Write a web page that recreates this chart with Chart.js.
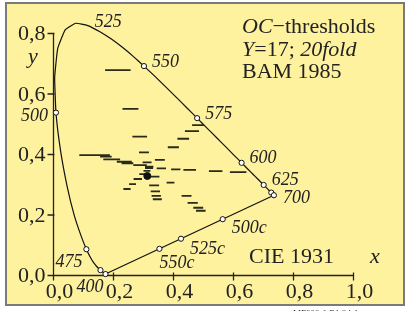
<!DOCTYPE html>
<html>
<head>
<meta charset="utf-8">
<script src="https://cdn.jsdelivr.net/npm/chart.js@4"></script>
<style>
  html, body { margin: 0; padding: 0; background: #fff; }
  canvas { display: block; }
</style>
</head>
<body>
<canvas id="myChart-Cie" width="406" height="311"></canvas>
<script>
// spectral locus, CIE 1931 (400..700 nm)
const locusX = [0.1733, 0.1730, 0.1726, 0.1721, 0.1714, 0.1703, 0.1689, 0.1669, 0.1644, 0.1611,
  0.1566, 0.1510, 0.1440, 0.1355, 0.1241, 0.1096, 0.0913, 0.0687, 0.0454, 0.0235,
  0.0082, 0.0039, 0.0139, 0.0389, 0.0743, 0.1142, 0.1547, 0.1929, 0.2296, 0.2658,
  0.3016, 0.3373, 0.3731, 0.4087, 0.4441, 0.4788, 0.5125, 0.5448, 0.5752, 0.6029,
  0.6270, 0.6482, 0.6658, 0.6801, 0.6915, 0.7006, 0.7079, 0.7190, 0.7260, 0.7300, 0.7334, 0.7347];
const locusY = [0.0048, 0.0048, 0.0048, 0.0048, 0.0051, 0.0058, 0.0069, 0.0086, 0.0109, 0.0138,
  0.0177, 0.0227, 0.0297, 0.0399, 0.0578, 0.0868, 0.1327, 0.2007, 0.2950, 0.4127,
  0.5384, 0.6548, 0.7502, 0.8120, 0.8338, 0.8262, 0.8059, 0.7816, 0.7543, 0.7243,
  0.6923, 0.6589, 0.6245, 0.5896, 0.5547, 0.5202, 0.4866, 0.4544, 0.4242, 0.3965,
  0.3725, 0.3514, 0.3340, 0.3197, 0.3083, 0.2993, 0.2920, 0.2809, 0.2740, 0.2700, 0.2666, 0.2653];

// purple line ends
const purpleX = [0.1733, 0.7347];
const purpleY = [0.0048, 0.2653];

// open circles on the border
const markX = [0.1733, 0.1566, 0.1096, 0.0082, 0.1142, 0.3016, 0.4788, 0.6270, 0.7006, 0.7260, 0.7347, 0.353, 0.425, 0.564];
const markY = [0.0048, 0.0177, 0.0868, 0.5384, 0.8262, 0.6923, 0.5202, 0.3725, 0.2993, 0.2740, 0.2653, 0.0882, 0.1216, 0.1861];

// labels at the circles
const labelText = ['400', '475', '500', '525', '550', '575', '600', '625', '700', '550c', '525c', '500c'];
const labelX = [0.1733, 0.1096, 0.0082, 0.1142, 0.3016, 0.4788, 0.6270, 0.7006, 0.7347, 0.353, 0.425, 0.564];
const labelY = [0.0048, 0.0868, 0.5384, 0.8262, 0.6923, 0.5202, 0.3725, 0.2993, 0.2653, 0.0882, 0.1216, 0.1861];

// white point
const whiteX = [0.3127];
const whiteY = [0.329];

// threshold dashes: from x1 to x2 at y
const dashX1 = [0.172, 0.230, 0.263, 0.285, 0.381, 0.413, 0.438, 0.462, 0.338, 0.297,
  0.344, 0.392, 0.433, 0.518, 0.588, 0.300, 0.286, 0.320, 0.267, 0.252,
  0.233, 0.377, 0.319, 0.324, 0.327, 0.331, 0.427, 0.447, 0.466, 0.475,
  0.086, 0.155, 0.166, 0.211, 0.227, 0.266, 0.305, 0.305];
const dashX2 = [0.257, 0.283, 0.312, 0.318, 0.418, 0.452, 0.485, 0.502, 0.371, 0.327,
  0.375, 0.423, 0.475, 0.563, 0.643, 0.323, 0.312, 0.353, 0.295, 0.275,
  0.257, 0.403, 0.352, 0.355, 0.358, 0.361, 0.460, 0.481, 0.499, 0.507,
  0.188, 0.194, 0.222, 0.261, 0.266, 0.311, 0.333, 0.332];
const dashY = [0.679, 0.551, 0.459, 0.407, 0.424, 0.452, 0.477, 0.497, 0.382, 0.374,
  0.354, 0.351, 0.349, 0.345, 0.342, 0.346, 0.335, 0.327, 0.319, 0.302,
  0.286, 0.307, 0.298, 0.278, 0.263, 0.252, 0.263, 0.240, 0.224, 0.214,
  0.398, 0.393, 0.384, 0.376, 0.371, 0.365, 0.360, 0.355];

const xTicks = [0, 0.2, 0.4, 0.6, 0.8, 1.0];
const yTicks = [0, 0.2, 0.4, 0.6, 0.8];

const pts = (xs, ys) => xs.map((x, i) => ({ x: x, y: ys[i] }));

const dashPts = [];
dashX1.forEach((x1, i) => {
  dashPts.push({ x: x1, y: dashY[i] }, { x: dashX2[i], y: dashY[i] }, { x: x1, y: null });
});

const serif = '"Liberation Serif", "DejaVu Serif", serif';
// label offsets in px: dx, dy, align
const labelOff = [[-2, 18, 'right'], [-4, 18, 'right'], [-8, 8, 'right'], [7, 1, 'left'], [8, 1, 'left'],
  [8, 1, 'left'], [8, 0, 'left'], [8, 0, 'left'], [9, 8, 'left'], [0, 19, 'left'], [9, 15, 'left'], [9, 14, 'left']];

const cieBackground = {
  id: 'cieBackground',
  beforeDraw(chart) {
    const c = chart.ctx;
    c.save();
    c.fillStyle = '#ffffff';
    c.fillRect(0, 0, chart.width, chart.height);
    c.fillStyle = '#fff29e';
    c.fillRect(6, 3, 398, 302);
    c.strokeStyle = '#7a7a7a';
    c.lineWidth = 2;
    c.strokeRect(6, 3, 398, 302);

    const xs = chart.scales.x, ys = chart.scales.y;
    const x0 = xs.getPixelForValue(0), y0 = ys.getPixelForValue(0);
    c.strokeStyle = '#222';
    c.lineWidth = 1.3;
    c.beginPath();
    c.moveTo(x0, y0); c.lineTo(x0, ys.getPixelForValue(0.8));
    c.moveTo(x0, y0); c.lineTo(xs.getPixelForValue(1.0), y0);
    yTicks.forEach(v => {
      const p = ys.getPixelForValue(v);
      c.moveTo(x0 - 6, p); c.lineTo(x0 + 1, p);
    });
    xTicks.forEach(v => {
      const p = xs.getPixelForValue(v);
      c.moveTo(p, y0 - 3); c.lineTo(p, y0 + 5);
    });
    c.stroke();

    c.fillStyle = '#222';
    c.font = '22px ' + serif;
    c.textAlign = 'right';
    c.textBaseline = 'middle';
    yTicks.forEach(v => {
      c.fillText(v.toFixed(1).replace('.', ','), x0 - 8, ys.getPixelForValue(v) + 1);
    });
    c.textAlign = 'center';
    c.textBaseline = 'alphabetic';
    xTicks.forEach(v => {
      c.fillText(v.toFixed(1).replace('.', ','), xs.getPixelForValue(v) + 6, 298);
    });
    c.restore();
  },
  afterDraw(chart) {
    const c = chart.ctx;
    const xs = chart.scales.x, ys = chart.scales.y;
    c.save();
    c.fillStyle = '#222';
    c.textBaseline = 'alphabetic';
    c.font = 'italic 18px ' + serif;
    labelText.forEach((t, i) => {
      const o = labelOff[i];
      c.textAlign = o[2];
      c.fillText(t, xs.getPixelForValue(labelX[i]) + o[0], ys.getPixelForValue(labelY[i]) + o[1]);
    });

    // title block
    const run = (parts, x, y) => {
      c.textAlign = 'left';
      parts.forEach(p => {
        c.font = (p[1] ? 'italic ' : '') + '22px ' + serif;
        c.fillText(p[0], x, y);
        x += c.measureText(p[0]).width;
      });
    };
    run([['OC', true], ['\u2212thresholds', false]], 242, 33);
    run([['Y', true], ['=17; ', false], ['20fold', true]], 242, 55.5);
    run([['BAM 1985', false]], 242, 78);
    run([['CIE 1931', false]], 249, 263);
    run([['x', true]], 370, 263);
    run([['y', true]], 28, 63);

    c.font = '9px ' + serif;
    c.fillStyle = '#333';
    c.textAlign = 'left';
    c.fillText('MF000-1 B1 24-1', 293, 316);
    c.restore();
  }
};

const ctxCie = document.getElementById('myChart-Cie');

new Chart(ctxCie, {
  type: 'scatter',
  data: {
    datasets: [
      {
        label: 'white point',
        data: pts(whiteX, whiteY),
        pointRadius: 3.5,
        pointBackgroundColor: '#111',
        pointBorderColor: '#111',
        clip: false
      }, {
        label: 'marks',
        data: pts(markX, markY),
        pointRadius: 2.6,
        pointBorderWidth: 1,
        pointBackgroundColor: '#ffffff',
        pointBorderColor: '#111',
        clip: false
      }, {
        label: 'thresholds',
        data: dashPts,
        showLine: true,
        spanGaps: false,
        pointRadius: 0,
        borderWidth: 1.8,
        borderColor: '#2a2a1a',
        clip: false
      }, {
        label: 'purple line',
        data: pts(purpleX, purpleY),
        showLine: true,
        pointRadius: 0,
        borderWidth: 1.2,
        borderColor: '#111',
        clip: false
      }, {
        label: 'spectral locus',
        data: pts(locusX, locusY),
        showLine: true,
        tension: 0.1,
        pointRadius: 0,
        borderWidth: 1.2,
        borderColor: '#111',
        clip: false
      }]
  },
  options: {
    responsive: false,
    animation: false,
    layout: {
      padding: { left: 53.5, right: 52.5, top: 33.5, bottom: 35.5 }
    },
    scales: {
      x: { type: 'linear', min: 0, max: 1, display: false },
      y: { type: 'linear', min: 0, max: 0.8, display: false }
    },
    plugins: {
      legend: { display: false },
      tooltip: { enabled: false }
    }
  },
  plugins: [cieBackground]
});
</script>
</body>
</html>
